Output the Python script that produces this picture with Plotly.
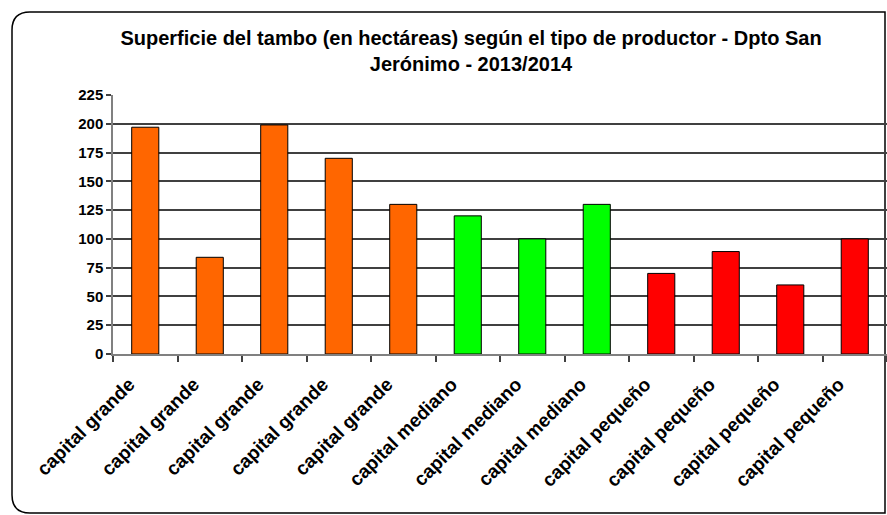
import plotly.graph_objects as go

categories = ["capital grande"] * 5 + ["capital mediano"] * 3 + ["capital pequeño"] * 4
values = [197, 84, 199, 170, 130, 120, 100, 130, 70, 89, 60, 100]
colors = ["#FF6600"] * 5 + ["#00FF00"] * 3 + ["#FF0000"] * 4
yticks = [0, 25, 50, 75, 100, 125, 150, 175, 200, 225]

W, H = 887, 515
L, R, T, B = 113, 887, 95, 354

xs = list(range(len(values)))

fig = go.Figure(go.Bar(
    x=xs, y=values,
    marker=dict(color=colors, line=dict(color="#000000", width=1)),
    width=0.42,
))

def P(px, py):
    a, b = (px - L) / (R - L), (B - py) / (B - T)
    return f"{a:.5f},{b:.5f}"

x0, y0, x1, y1, r = 12, 12, 885, 513, 18
path = (f"M {P(x0 + r, y0)} L {P(x1, y0)} L {P(x1, y1)} L {P(x0 + r, y1)} "
        f"Q {P(x0, y1)} {P(x0, y1 - r)} L {P(x0, y0 + r)} Q {P(x0, y0)} {P(x0 + r, y0)} Z")

FONT = "Liberation Sans, Arial, sans-serif"

fig.update_layout(
    width=W, height=H,
    margin=dict(l=L, r=W - R, t=T, b=H - B, autoexpand=False),
    paper_bgcolor="white", plot_bgcolor="white",
    font=dict(family=FONT, color="#000000"),
    showlegend=False,
    title=dict(
        text="<b>Superficie del tambo (en hectáreas) según el tipo de productor - Dpto San<br>Jerónimo - 2013/2014</b>",
        x=471 / W, xanchor="center", xref="container",
        y=1 - 45 / H, yanchor="top", yref="container",
        font=dict(size=20, family=FONT),
    ),
    xaxis=dict(
        range=[-0.5, len(values) - 0.5],
        tickvals=xs, ticktext=categories, tickangle=-45,
        ticks="", showgrid=False, automargin=False,
        tickfont=dict(size=19, family=FONT, weight="bold"),
        ticklabelshift=-16, ticklabelstandoff=10,
        showline=True, linecolor="#808080", linewidth=1.5,
        minor=dict(tickvals=[i - 0.5 for i in range(len(values) + 1)], ticks="outside",
                   ticklen=6, tickcolor="#404040", tickwidth=1.5, showgrid=False),
        zeroline=False,
    ),
    yaxis=dict(
        range=[0, 225], tickvals=yticks, ticks="outside", ticklen=5,
        tickcolor="#404040", tickwidth=1.5, automargin=False,
        showgrid=True, gridcolor="#404040", gridwidth=1.5,
        showline=True, linecolor="#808080", linewidth=1.5,
        tickfont=dict(size=15, family=FONT, weight="bold"),
        zeroline=False,
    ),
    shapes=[dict(type="path", xref="paper", yref="paper", path=path,
                 line=dict(color="#000000", width=1.5), fillcolor="rgba(0,0,0,0)", layer="below")],
)

fig.write_html("out.html", config={"displayModeBar": False},
               post_script="document.body.style.margin='0';document.body.style.overflow='hidden';")
